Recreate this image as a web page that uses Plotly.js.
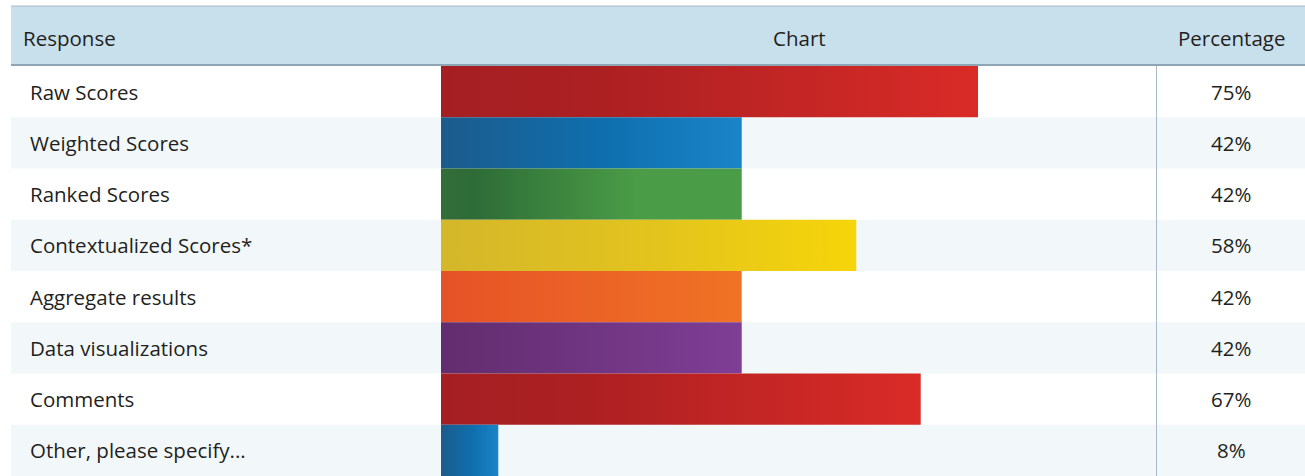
<!DOCTYPE html>
<html>
<head>
<meta charset="utf-8">
<script src="https://cdn.plot.ly/plotly-3.0.1.min.js"></script>
<style>
html,body{margin:0;padding:0;background:#fff;}
#chart{width:1305px;height:476px;}
</style>
</head>
<body>
<div id="chart"></div>
<script>
// ---- data ----
const categories = [
  "Raw Scores",
  "Weighted Scores",
  "Ranked Scores",
  "Contextualized Scores*",
  "Aggregate results",
  "Data visualizations",
  "Comments",
  "Other, please specify..."
];
const percentages = [75, 42, 42, 58, 42, 42, 67, 8];
const headerLabels = ["Response", "Chart", "Percentage"];
const gradientStops = [
  [[0, "#a51f22"], [0.3, "#ac2022"], [1, "#d92b27"]],
  [[0, "#1c5b8c"], [0.55, "#0f6fae"], [1, "#1a84c8"]],
  [[0, "#326e3a"], [0.1, "#2d6b37"], [0.65, "#4a9c47"], [1, "#4a9c47"]],
  [[0, "#d4b72a"], [0.5, "#e2c31e"], [1, "#f6d50a"]],
  [[0, "#e65227"], [1, "#f07325"]],
  [[0, "#622d6e"], [1, "#7e3e95"]],
  [[0, "#a51f22"], [0.3, "#ac2022"], [1, "#d92b27"]],
  [[0, "#1c5b8c"], [0.55, "#0f6fae"], [1, "#1a84c8"]]
];

// ---- layout constants ----
const W = 1305, H = 476;
const plotLeft = 441, plotRight = 1157, plotTop = 66;
const headerTop = 6, headerBottom = 65;
const px = v => v / W;
const py = v => 1 - v / H;
const FONT = "Open Sans, Noto Sans, sans-serif";
const FS = 20.5;
const TXT = "#231f20";
const LINE = "#8ea5b6";

const traces = categories.map((c, i) => {
  const v = percentages[i];
  return {
    type: "scatter",
    mode: "lines",
    x: [0, v, v, 0, 0],
    y: [i - 0.5, i - 0.5, i + 0.5, i + 0.5, i - 0.5],
    fill: "toself",
    fillgradient: {type: "horizontal", colorscale: gradientStops[i]},
    line: {width: 0},
    hoverinfo: "skip",
    showlegend: false,
    name: c
  };
});

const shapes = [];
// header background
shapes.push({type: "rect", xref: "paper", yref: "paper", x0: px(11), x1: 1, y0: py(headerBottom), y1: py(headerTop),
  fillcolor: "#c8dfec", line: {width: 0}, layer: "below"});
shapes.push({type: "line", xref: "paper", yref: "paper", x0: px(11), x1: 1, y0: py(headerTop), y1: py(headerTop),
  line: {color: "#a7bccb", width: 1}, layer: "above"});
shapes.push({type: "line", xref: "paper", yref: "paper", x0: px(11), x1: 1, y0: py(headerBottom), y1: py(headerBottom),
  line: {color: LINE, width: 2}, layer: "above"});
// alternate row backgrounds
categories.forEach((c, i) => {
  if (i % 2 === 1) {
    shapes.push({type: "rect", xref: "paper", yref: "y", x0: px(11), x1: 1, y0: i - 0.5, y1: i + 0.5,
      fillcolor: "#f2f7fa", line: {width: 0}, layer: "below"});
  }
});
// vertical separator
shapes.push({type: "line", xref: "x", yref: "paper", x0: 100, x1: 100, y0: 0, y1: py(plotTop),
  line: {color: LINE, width: 1.5}, layer: "above"});

const annotations = [];
const hy = py(38);
annotations.push({text: headerLabels[0], xref: "paper", yref: "paper", x: px(21), y: hy, xanchor: "left", yanchor: "middle", showarrow: false,
  font: {family: FONT, size: FS, color: TXT}});
annotations.push({text: headerLabels[1], xref: "paper", yref: "paper", x: px((plotLeft + plotRight) / 2), y: hy, xanchor: "center", yanchor: "middle", showarrow: false,
  font: {family: FONT, size: FS, color: TXT}});
annotations.push({text: headerLabels[2], xref: "paper", yref: "paper", x: px(1231), y: hy, xanchor: "center", yanchor: "middle", showarrow: false,
  font: {family: FONT, size: FS, color: TXT}});
categories.forEach((c, i) => {
  annotations.push({text: c, xref: "paper", yref: "y", x: px(28), y: i, xanchor: "left", yanchor: "middle", showarrow: false,
    font: {family: FONT, size: FS, color: TXT}});
  annotations.push({text: percentages[i] + "%", xref: "paper", yref: "y", x: px(1231), y: i, xanchor: "center", yanchor: "middle", showarrow: false,
    font: {family: FONT, size: FS, color: TXT}});
});

const layout = {
  width: W, height: H,
  margin: {l: 0, r: 0, t: 0, b: 0, pad: 0},
  paper_bgcolor: "#ffffff",
  plot_bgcolor: "rgba(0,0,0,0)",
  showlegend: false,
  hovermode: false,
  xaxis: {domain: [px(plotLeft), px(plotRight)], range: [0, 100], showgrid: false, zeroline: false, showticklabels: false, showline: false, ticks: "", fixedrange: true},
  yaxis: {domain: [0, py(plotTop)], range: [categories.length - 0.5, -0.5], showgrid: false, zeroline: false, showticklabels: false, showline: false, ticks: "", fixedrange: true},
  shapes: shapes,
  annotations: annotations
};

Plotly.newPlot("chart", traces, layout, {displayModeBar: false, staticPlot: true});
</script>
</body>
</html>
